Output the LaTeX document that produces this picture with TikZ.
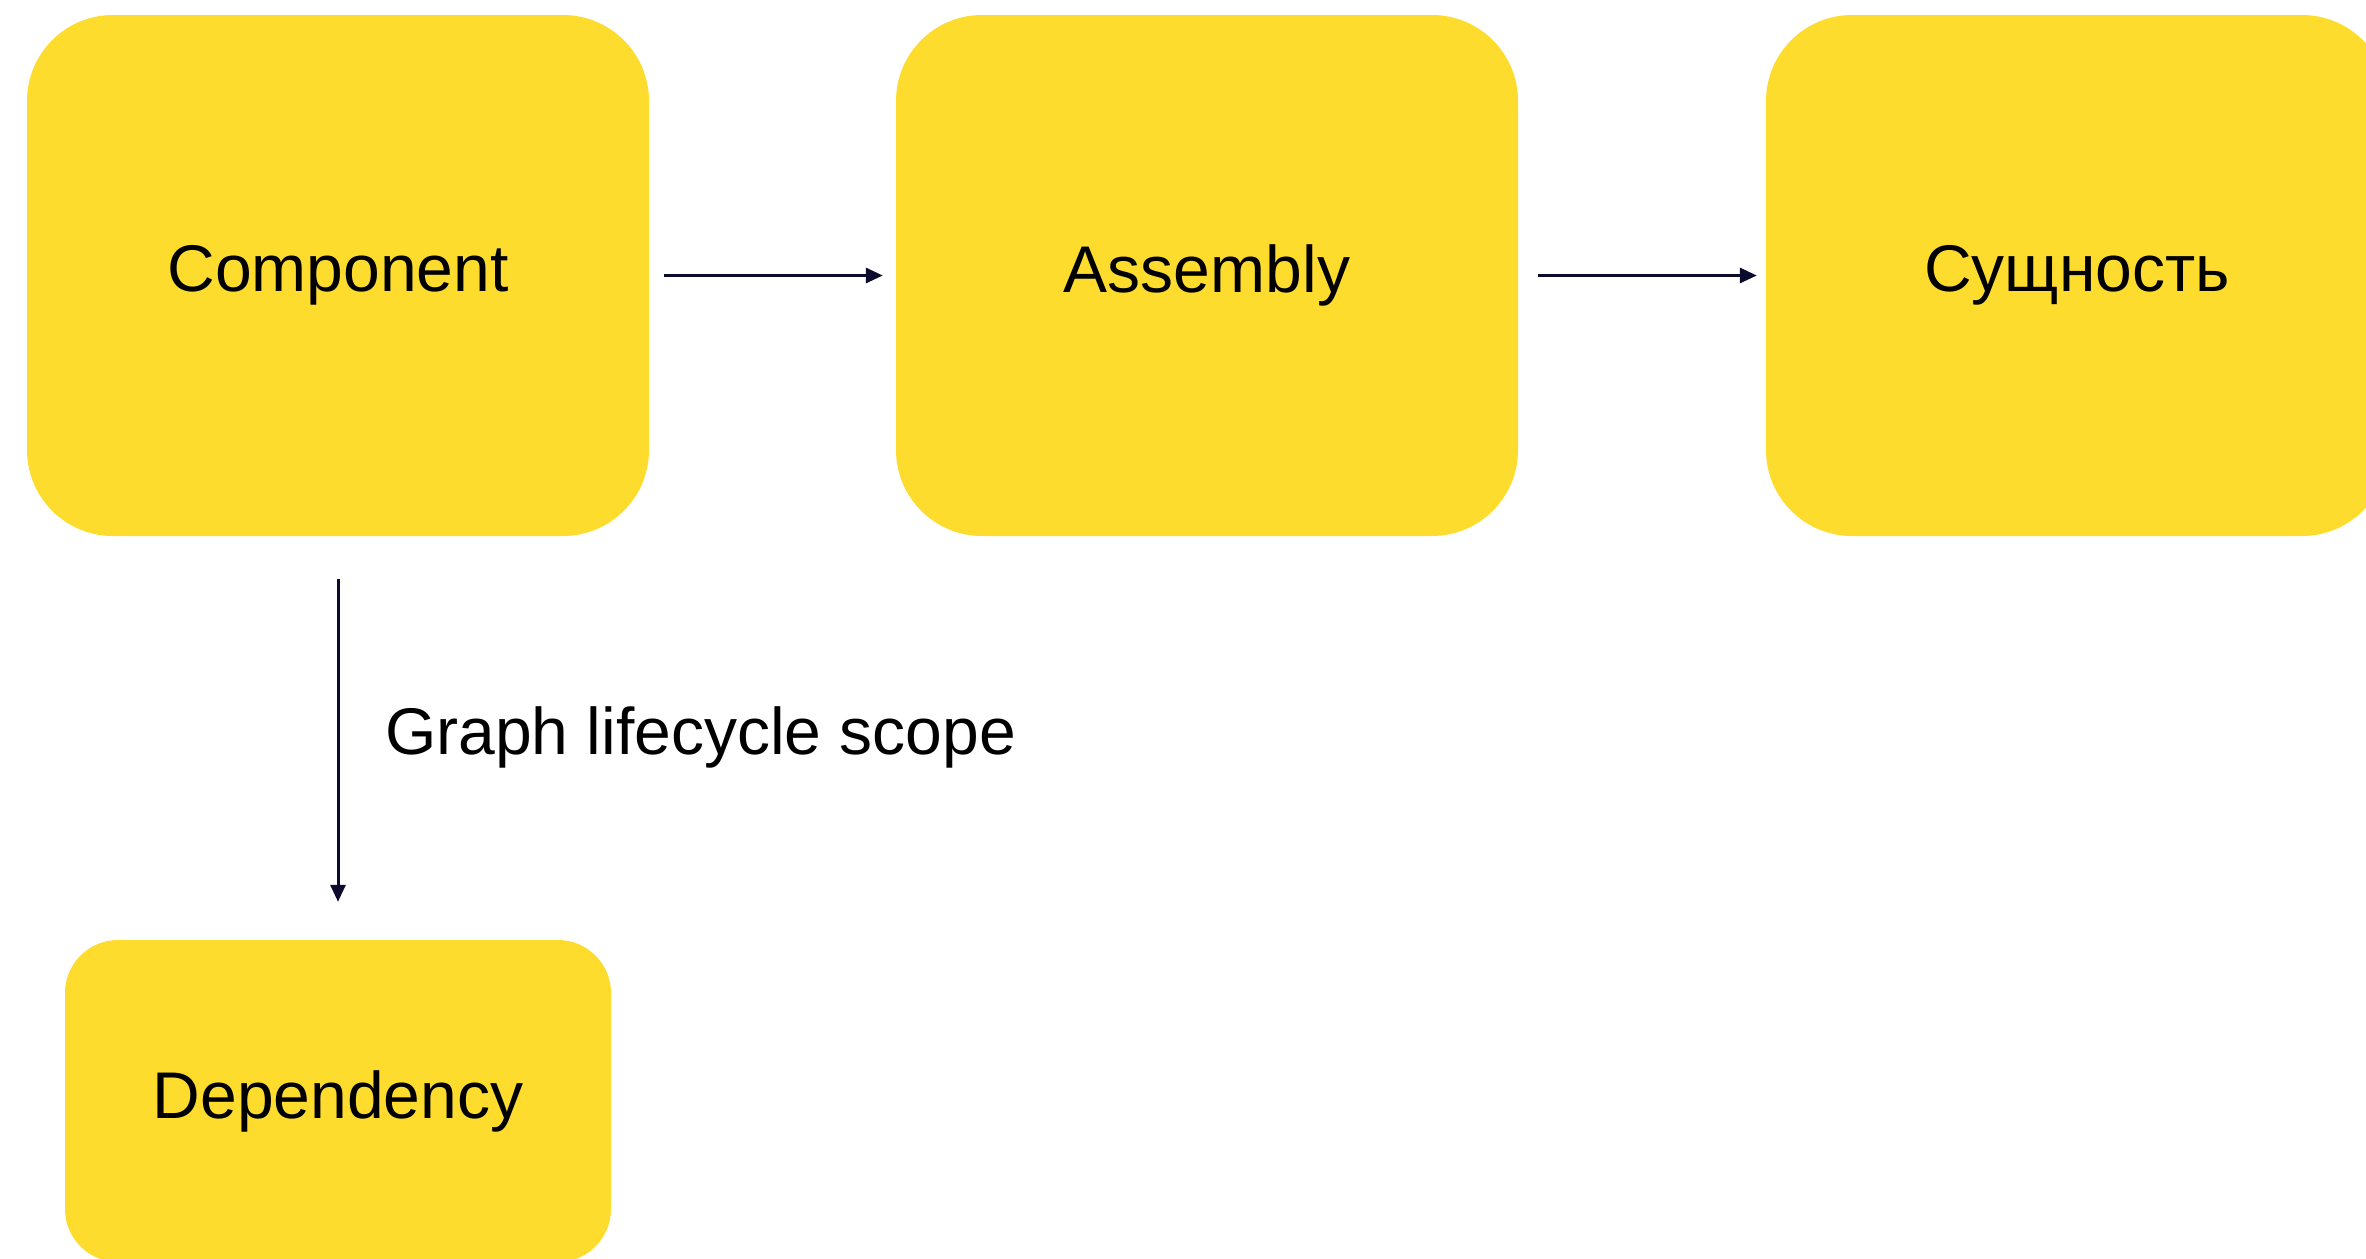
\documentclass[tikz,border=0pt]{standalone}
\usepackage{fontspec}
\setmainfont{Liberation Sans}
\usetikzlibrary{arrows.meta}
\definecolor{boxyellow}{HTML}{FEDC2E}
\definecolor{inkblue}{HTML}{0B0B2E}
\begin{document}
\begin{tikzpicture}[x=1pt,y=-1pt,
  bigbox/.style={fill=boxyellow, draw=none, rounded corners=86pt,
    minimum width=622pt, minimum height=521pt, inner sep=0pt,
    font=\fontsize{66}{80}\selectfont},
  smallbox/.style={fill=boxyellow, draw=none, rounded corners=53pt,
    minimum width=546pt, minimum height=322pt, inner sep=0pt,
    font=\fontsize{66}{80}\selectfont},
  flow/.style={draw=inkblue, line width=3pt,
    -{Triangle[length=17pt,width=15pt]}},
  caption/.style={font=\fontsize{66}{80}\selectfont, inner sep=0pt, anchor=west}]
  \clip (0,0) rectangle (2366,1258);
  \fill[white] (0,0) rectangle (2366,1258);

  \node[bigbox] (comp) at (338,275.5) {Component};
  \node[bigbox] (asm)  at (1207,275.5) {Assembly};
  \node[bigbox] (ent)  at (2077,275.5) {Сущность};
  \node[smallbox] (dep) at (338,1101) {Dependency};

  \draw[flow, shorten <=15pt, shorten >=13pt] (comp.east) -- (asm.west);
  \draw[flow, shorten <=20pt, shorten >=9pt] (asm.east) -- (ent.west);
  \draw[flow, shorten <=43pt, shorten >=38pt] (comp.south) -- (dep.north);

  \node[caption] (scope) at (385,737) {Graph lifecycle scope};
\end{tikzpicture}
\end{document}
